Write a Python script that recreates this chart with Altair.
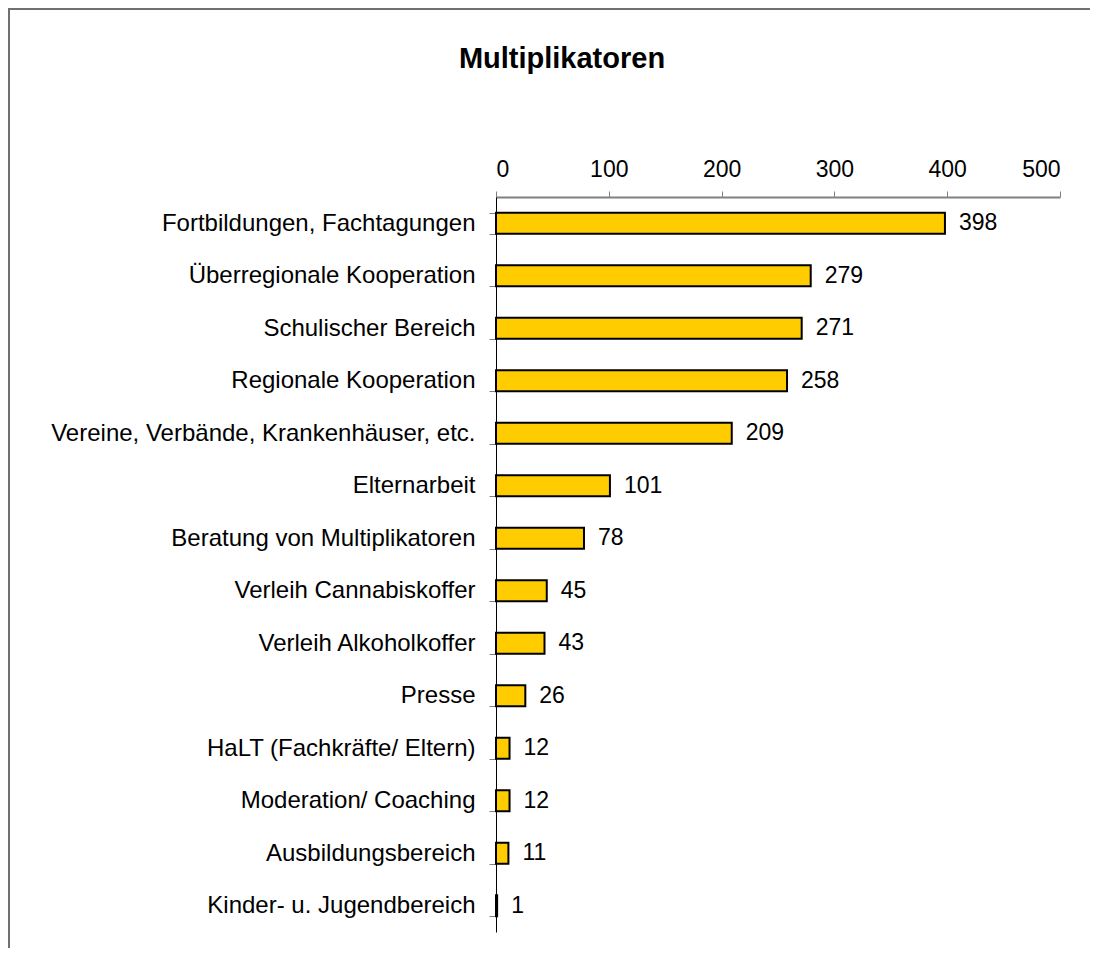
import altair as alt
import pandas as pd

categories = [
    "Fortbildungen, Fachtagungen",
    "Überregionale Kooperation",
    "Schulischer Bereich",
    "Regionale Kooperation",
    "Vereine, Verbände, Krankenhäuser, etc.",
    "Elternarbeit",
    "Beratung von Multiplikatoren",
    "Verleih Cannabiskoffer",
    "Verleih Alkoholkoffer",
    "Presse",
    "HaLT (Fachkräfte/ Eltern)",
    "Moderation/ Coaching",
    "Ausbildungsbereich",
    "Kinder- u. Jugendbereich",
]
values = [398, 279, 271, 258, 209, 101, 78, 45, 43, 26, 12, 12, 11, 1]
x_ticks = [0, 100, 200, 300, 400, 500]

df = pd.DataFrame({"Kategorie": categories, "Anzahl": values})

FONT = "Liberation Sans"
W, H = 564, 735
PAD_L, PAD_T, PAD_R, PAD_B = 488, 189, 30, 16

y_enc = alt.Y(
    "Kategorie:N",
    sort=categories,
    scale=alt.Scale(paddingInner=0.6, paddingOuter=0.3),
    axis=alt.Axis(
        title=None,
        tickBand="extent",
        tickSize=7,
        tickColor="#808080",
        domainColor="#000000",
        domainWidth=1,
        labelFont=FONT,
        labelFontSize=24,
        labelColor="#000000",
        labelPadding=14,
        labelLimit=500,
    ),
)
x_enc = alt.X(
    "Anzahl:Q",
    scale=alt.Scale(domain=[0, 500], nice=False, zero=True),
    axis=alt.Axis(
        orient="top",
        title=None,
        values=x_ticks,
        grid=False,
        tickSize=6,
        tickColor="#808080",
        domainColor="#808080",
        domainWidth=2,
        labelFont=FONT,
        labelFontSize=23,
        labelColor="#000000",
        labelPadding=10,
    ),
)

bars = alt.Chart(df).mark_bar(
    fill="#FFCC00", stroke="#000000", strokeWidth=2
).encode(x=x_enc, y=y_enc)

labels = alt.Chart(df).mark_text(
    align="left", baseline="middle", dx=14, font=FONT, fontSize=23, color="#000000"
).encode(
    x=alt.X("Anzahl:Q"),
    y=alt.Y("Kategorie:N", sort=categories),
    text=alt.Text("Anzahl:Q"),
)

border_df = pd.DataFrame({"k": [0]})
top_border = alt.Chart(border_df).mark_rule(color="#707070", strokeWidth=2).encode(
    x=alt.value(-PAD_L), x2=alt.value(W + PAD_R), y=alt.value(-PAD_T + 1)
)
left_border = alt.Chart(border_df).mark_rule(color="#707070", strokeWidth=2).encode(
    x=alt.value(-PAD_L + 1), y=alt.value(-PAD_T), y2=alt.value(H + PAD_B)
)

chart = alt.layer(bars, labels, top_border, left_border).properties(
    width=W,
    height=H,
    autosize=alt.AutoSizeParams(type="none"),
    padding={"left": PAD_L, "top": PAD_T, "right": PAD_R, "bottom": PAD_B},
    title=alt.TitleParams(
        "Multiplikatoren",
        font=FONT,
        fontSize=29,
        fontWeight="bold",
        color="#000000",
        anchor="middle",
        frame="group",
        baseline="alphabetic",
        dx=-216,
        offset=-90,
    ),
).configure_view(stroke=None)

chart.save("out.html", embed_options={"renderer": "svg", "actions": False})
